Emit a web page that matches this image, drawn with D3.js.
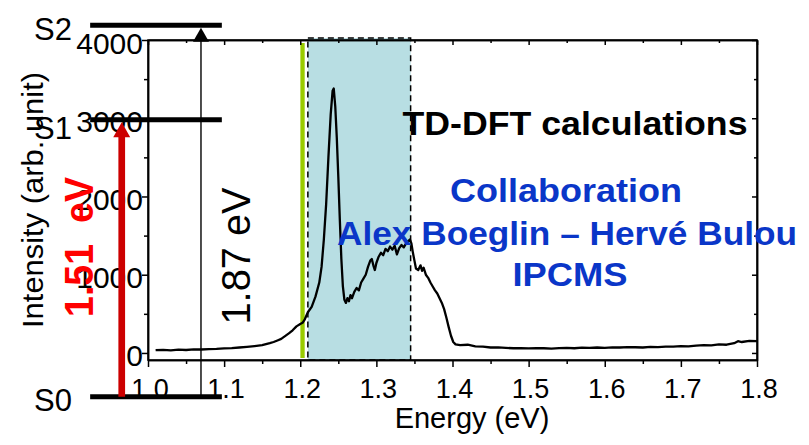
<!DOCTYPE html>
<html><head><meta charset="utf-8">
<script src="https://cdn.jsdelivr.net/npm/d3@7"></script>
<style>body{margin:0;background:#fff}svg{display:block}</style>
</head><body><svg id="c" width="809" height="445"></svg>
<script>
// ---- data ----
const energy = [1.010,1.020,1.030,1.040,1.050,1.060,1.070,1.080,1.090,1.100,1.110,1.120,1.130,1.140,1.150,1.160,1.165,1.170,1.175,1.180,1.185,1.190,1.195,1.200,1.203,1.206,1.210,1.215,1.220,1.225,1.228,1.231,1.234,1.237,1.240,1.2425,1.244,1.246,1.248,1.250,1.252,1.254,1.256,1.258,1.260,1.262,1.264,1.266,1.268,1.271,1.274,1.277,1.280,1.283,1.286,1.289,1.292,1.294,1.296,1.298,1.300,1.303,1.306,1.309,1.312,1.315,1.318,1.321,1.324,1.327,1.330,1.333,1.336,1.339,1.342,1.344,1.346,1.348,1.350,1.352,1.355,1.358,1.360,1.362,1.365,1.368,1.371,1.374,1.377,1.380,1.383,1.386,1.389,1.392,1.395,1.398,1.401,1.404,1.410,1.420,1.430,1.440,1.450,1.460,1.470,1.480,1.490,1.500,1.510,1.520,1.530,1.540,1.550,1.560,1.570,1.580,1.590,1.600,1.610,1.620,1.630,1.640,1.650,1.660,1.670,1.680,1.690,1.700,1.710,1.720,1.730,1.740,1.750,1.760,1.770,1.775,1.780,1.790,1.800];
const intensity = [35,40,33,42,38,45,44,50,52,58,62,70,78,88,100,125,140,160,180,215,250,290,340,370,385,430,520,590,720,900,1100,1450,1900,2500,3050,3350,3380,3150,2750,2250,1700,1200,850,680,640,700,660,740,700,780,830,800,900,950,1000,1100,1180,1200,1120,1060,1150,1230,1280,1250,1330,1300,1360,1320,1370,1260,1340,1380,1350,1400,1430,1450,1400,1280,1180,1080,1060,1120,1050,1090,1000,960,900,850,800,760,700,640,560,450,330,220,140,110,100,105,85,80,70,72,65,60,62,58,63,60,55,62,66,60,68,64,70,66,72,70,75,73,70,78,75,82,80,88,85,95,100,98,110,105,125,150,140,155,150];
const xMajorTicks = [1.0,1.1,1.2,1.3,1.4,1.5,1.6,1.7,1.8];
const xMinorTicks = [1.05,1.15,1.25,1.35,1.45,1.55,1.65,1.75];
const yMajorTicks = [0,1000,2000,3000,4000];
const yMinorTicks = [500,1500,2500,3500];
const bandRange = [1.21,1.345];
const laserEnergy = 1.203;
const levelNames = ["S0","S1","S2"];
const levelHeights = [-560,2980,4190];   // drawn on the intensity scale
const levelSpan = [0.924,1.097];          // drawn on the energy scale
const transitionLabels = ["1.51  eV","1.87 eV"];
const transitionTarget = ["S1","S2"];
const transitionEnergyX = [0.9655,1.0696];
const annotationLines = ["TD-DFT calculations","Collaboration","Alex Boeglin – Hervé Bulou","IPCMS"];

// ---- layout ----
const svg = d3.select("#c");
const L=148, R=757, T=40, B=360;
const x = d3.scaleLinear().domain([1.0,1.8]).range([L,R]);
const y = d3.scaleLinear().domain([-90,4000]).range([B,T]);
const sans = "'Liberation Sans', Arial, sans-serif";
const bold = "'Liberation Sans', Arial, sans-serif";

// band
svg.append("rect").attr("x",x(bandRange[0])).attr("y",T-2)
  .attr("width",x(bandRange[1])-x(bandRange[0])).attr("height",B-T+2)
  .attr("fill","#b8dee3");

// laser line
svg.append("line").attr("x1",x(laserEnergy)).attr("x2",x(laserEnergy))
  .attr("y1",T+3).attr("y2",B-2).attr("stroke","#99cc00").attr("stroke-width",4.3);

// spectrum
const pts = energy.map((e,i)=>[e,intensity[i]]);
svg.append("path").datum(pts)
  .attr("d",d3.line().x(d=>x(d[0])).y(d=>y(d[1])))
  .attr("fill","none").attr("stroke","#000").attr("stroke-width",2.3).attr("stroke-linejoin","round");

// band dashed outline
svg.append("rect").attr("x",x(bandRange[0])).attr("y",T-2)
  .attr("width",x(bandRange[1])-x(bandRange[0])).attr("height",B-T+2)
  .attr("fill","none").attr("stroke","#000").attr("stroke-width",1.5).attr("stroke-dasharray","6,4");

// axes
function styleAxis(g){ g.select(".domain").attr("stroke","#000").attr("stroke-width",1.5);
  g.selectAll(".tick line").attr("stroke","#000").attr("stroke-width",1.5);
  g.selectAll("text").remove(); }
svg.append("g").attr("transform",`translate(0,${B})`)
  .call(d3.axisBottom(x).tickValues(xMajorTicks).tickSizeInner(7).tickSizeOuter(0)).call(styleAxis);
svg.append("g").attr("transform",`translate(0,${B})`)
  .call(d3.axisBottom(x).tickValues(xMinorTicks).tickSizeInner(4).tickSizeOuter(0)).call(styleAxis);
svg.append("g").attr("transform",`translate(0,${T})`)
  .call(d3.axisTop(x).tickValues(xMajorTicks).tickSizeInner(-5).tickSizeOuter(0)).call(styleAxis);
svg.append("g").attr("transform",`translate(0,${T})`)
  .call(d3.axisTop(x).tickValues(xMinorTicks).tickSizeInner(-3).tickSizeOuter(0)).call(styleAxis);
svg.append("g").attr("transform",`translate(${L},0)`)
  .call(d3.axisLeft(y).tickValues(yMajorTicks).tickSizeInner(6).tickSizeOuter(0)).call(styleAxis);
svg.append("g").attr("transform",`translate(${L},0)`)
  .call(d3.axisLeft(y).tickValues(yMinorTicks).tickSizeInner(4).tickSizeOuter(0)).call(styleAxis);
svg.append("g").attr("transform",`translate(${R},0)`)
  .call(d3.axisRight(y).tickValues(yMajorTicks).tickSizeInner(-5).tickSizeOuter(0)).call(styleAxis);
svg.append("g").attr("transform",`translate(${R},0)`)
  .call(d3.axisRight(y).tickValues(yMinorTicks).tickSizeInner(-3).tickSizeOuter(0)).call(styleAxis);
svg.append("rect").attr("x",L).attr("y",T).attr("width",R-L).attr("height",B-T)
  .attr("fill","none").attr("stroke","#000").attr("stroke-width",1.5);

// tick labels
svg.append("g").selectAll("text").data(xMajorTicks).join("text")
  .attr("x",d=>x(d)+2).attr("y",398).attr("text-anchor","middle")
  .attr("font-family",sans).attr("font-size",27).text(d=>d.toFixed(1));
svg.append("g").selectAll("text").data(yMajorTicks).join("text")
  .attr("x",L-5).attr("y",d=>y(d)).attr("dy","0.45em").attr("text-anchor","end")
  .attr("font-family",sans).attr("font-size",30).text(d=>d);

// axis titles
svg.append("text").attr("x",472).attr("y",428).attr("text-anchor","middle")
  .attr("font-family",sans).attr("font-size",29).text("Energy (eV)");
svg.append("text").attr("transform","translate(43,200) rotate(-90)").attr("text-anchor","middle")
  .attr("font-family",sans).attr("font-size",30).attr("textLength",256).attr("lengthAdjust","spacingAndGlyphs")
  .text("Intensity (arb. unit)");

// annotations
svg.append("text").attr("x",575).attr("y",135).attr("text-anchor","middle")
  .attr("font-family",bold).attr("font-weight","bold").attr("font-size",33).attr("fill","#000")
  .attr("textLength",345).attr("lengthAdjust","spacingAndGlyphs").text(annotationLines[0]);
const blue="#0a36c8";
[[566,202,232],[567,245,460],[570,286,115]].forEach((p,i)=>{
  svg.append("text").attr("x",p[0]).attr("y",p[1]).attr("text-anchor","middle")
   .attr("font-family",bold).attr("font-weight","bold").attr("font-size",33).attr("fill",blue)
   .attr("textLength",p[2]).attr("lengthAdjust","spacingAndGlyphs").text(annotationLines[i+1]);
});

// energy level diagram
const lv = svg.append("g");
levelNames.forEach((n,i)=>{
  lv.append("line").attr("x1",x(levelSpan[0])).attr("x2",x(levelSpan[1]))
    .attr("y1",y(levelHeights[i])).attr("y2",y(levelHeights[i]))
    .attr("stroke","#000").attr("stroke-width",5);
  lv.append("text").attr("x",72).attr("y",y(levelHeights[i])).attr("dy", i===1?"0.62em":"0.47em")
    .attr("text-anchor","end").attr("font-family",sans).attr("font-size",31).text(n);
});
transitionEnergyX.forEach((ex,i)=>{
  const xx = x(ex);
  const y0 = y(levelHeights[0]);
  const y1 = y(levelHeights[levelNames.indexOf(transitionTarget[i])]) + 2.5;
  const red = i===0;
  const hl = red?15:14, hw = red?8.5:8;
  lv.append("line").attr("x1",xx).attr("x2",xx).attr("y1",y0).attr("y2",y1+hl-1)
    .attr("stroke",red?"#cc0000":"#000").attr("stroke-width",red?6.7:1.4);
  lv.append("path").attr("d",`M${xx},${y1}L${xx-hw},${y1+hl}L${xx+hw},${y1+hl}Z`)
    .attr("fill",red?"#cc0000":"#000");
});
// transition labels
svg.append("text").attr("transform","translate(93,247) rotate(-90)").attr("text-anchor","middle")
  .attr("font-family",sans).attr("font-weight","bold").attr("font-size",40).attr("fill","#ff0000")
  .style("white-space","pre").attr("textLength",140).attr("lengthAdjust","spacingAndGlyphs")
  .text(transitionLabels[0]);
svg.append("text").attr("transform","translate(250,256) rotate(-90)").attr("text-anchor","middle")
  .attr("font-family",sans).attr("font-size",40).attr("fill","#000")
  .attr("textLength",137).attr("lengthAdjust","spacingAndGlyphs")
  .text(transitionLabels[1]);
</script></body></html>
